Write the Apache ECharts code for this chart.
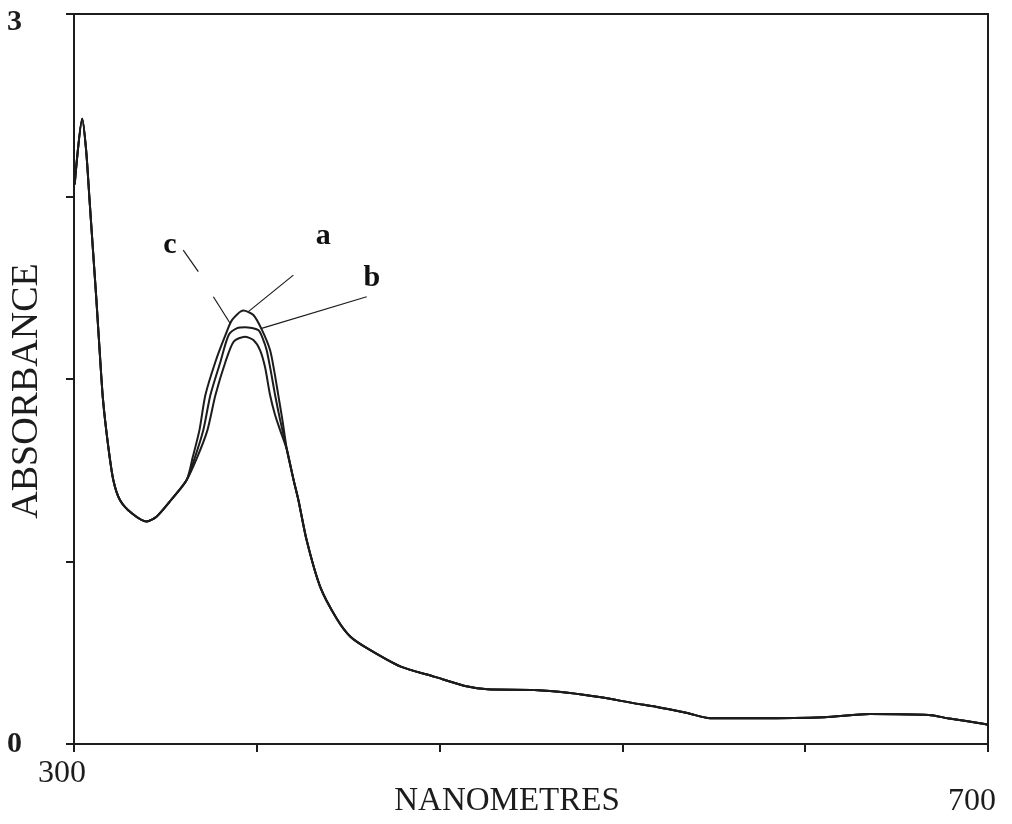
<!DOCTYPE html>
<html><head><meta charset="utf-8">
<script src="https://cdn.jsdelivr.net/npm/echarts@6/dist/echarts.min.js"></script>
<style>html,body{margin:0;padding:0;background:#fff}#c{width:1012px;height:824px}</style>
</head><body><div id="c"></div>
<script>
// Tick labels shown
const xTickLabels = {300: '300', 700: '700'};
const yTickLabels = {0: '0', 3: '3'};

// Shared left part of the spectrum (nm, absorbance)
const leftNm  = [300.3, 303.6, 305.3, 306.8, 308.3, 309.8, 311.2, 312.7, 315.0, 317.2, 320.1, 325.3, 331.8, 336.2, 342.5, 349.3];
const leftAbs = [2.30, 2.57, 2.441, 2.236, 2.03, 1.825, 1.619, 1.414, 1.222, 1.085, 1.003, 0.948, 0.914, 0.935, 1.003, 1.085];

// Peak region of each curve
const aNm  = [352.0, 354.9, 357.5, 361.9, 366.3, 369.2, 374.1, 378.5, 382.3, 385.8, 387.7, 389.4, 391.2];
const aAbs = [1.18, 1.29, 1.434, 1.571, 1.681, 1.743, 1.781, 1.763, 1.701, 1.619, 1.529, 1.434, 1.332];
const bNm  = [353.0, 356.6, 359.7, 364.1, 367.7, 371.4, 374.8, 380.7, 382.7, 384.3, 386.2, 388.0, 390.2];
const bAbs = [1.18, 1.29, 1.434, 1.571, 1.681, 1.709, 1.713, 1.701, 1.664, 1.619, 1.529, 1.434, 1.332];
const cNm  = [354.0, 358.4, 361.9, 366.3, 369.9, 374.8, 378.5, 381.4, 383.6, 385.8, 388.0, 390.2];
const cAbs = [1.18, 1.29, 1.434, 1.571, 1.654, 1.674, 1.660, 1.619, 1.549, 1.434, 1.352, 1.290];

// Shared right part
const rightNm  = [393.2, 396.1, 398.2, 401.8, 407.7, 415.0, 421.0, 428.4, 443.0, 457.6, 472.3, 481.0, 501.5, 516.1, 530.7, 545.3, 554.6, 568.4, 578.5, 598.5, 628.4, 648.3, 674.1, 682.3, 698.5, 700.0];
const rightAbs = [1.208, 1.085, 1.003, 0.838, 0.647, 0.515, 0.441, 0.393, 0.318, 0.277, 0.236, 0.225, 0.222, 0.211, 0.192, 0.167, 0.153, 0.127, 0.106, 0.106, 0.110, 0.123, 0.119, 0.106, 0.082, 0.078];

// Curve labels and leader lines (data coordinates)
const curveNames = ['a', 'b', 'c'];
const labelNm  = [409.1, 430.3, 342.0];
const labelAbs = [2.085, 1.914, 2.051];
const leaderSegments = [
  [[396.0, 1.927], [376.3, 1.777]],
  [[428.1, 1.838], [382.1, 1.708]],
  [[347.8, 2.030], [354.4, 1.941]],
  [[361.0, 1.838], [368.3, 1.729]]
];

function pairs(xs, ys) { return xs.map((x, i) => [x, ys[i]]); }
const curves = [
  pairs(leftNm, leftAbs).concat(pairs(aNm, aAbs), pairs(rightNm, rightAbs)),
  pairs(leftNm, leftAbs).concat(pairs(bNm, bAbs), pairs(rightNm, rightAbs)),
  pairs(leftNm, leftAbs).concat(pairs(cNm, cAbs), pairs(rightNm, rightAbs))
];

const ink = '#1c1c1c';
const serif = '"Liberation Serif", "DejaVu Serif", serif';

const series = [];
curves.forEach((d, i) => {
  series.push({
    type: 'line', name: curveNames[i], data: d, showSymbol: false, smooth: 0.25,
    lineStyle: {color: ink, width: 2}, silent: true, z: 3
  });
});
leaderSegments.forEach(seg => {
  series.push({
    type: 'line', data: seg, showSymbol: false,
    lineStyle: {color: ink, width: 1.2}, silent: true, z: 2
  });
});
series.push({
  type: 'scatter', symbolSize: 1,
  itemStyle: {opacity: 0},
  data: curveNames.map((n, i) => ({name: n, value: [labelNm[i], labelAbs[i]]})),
  label: {show: true, position: 'inside', formatter: p => p.name,
          fontFamily: serif, fontSize: 30, fontWeight: 'bold', color: '#111', opacity: 1},
  silent: true
});

const chart = echarts.init(document.getElementById('c'), null, {renderer: 'canvas'});
chart.setOption({
  backgroundColor: '#ffffff',
  animation: false,
  grid: {left: 74, right: 24, top: 14, bottom: 80, containLabel: false, outerBoundsMode: 'none',
         show: true, borderColor: ink, borderWidth: 2, backgroundColor: 'transparent'},
  xAxis: {
    type: 'value', min: 300, max: 700, interval: 80,
    name: 'NANOMETRES', nameLocation: 'middle', nameGap: 41, nameMoveOverlap: false,
    nameTextStyle: {fontFamily: serif, fontSize: 33, color: ink, padding: [0, 48, 0, 0]},
    axisLine: {show: true, lineStyle: {color: ink, width: 2}},
    axisTick: {show: true, inside: false, length: 8, lineStyle: {color: ink, width: 2}},
    splitLine: {show: false},
    axisLabel: {
      showMinLabel: true, showMaxLabel: true, margin: 14,
      formatter: v => v === 300 ? '{l|' + xTickLabels[300] + '}' : (v === 700 ? '{r|' + xTickLabels[700] + '}' : ''),
      fontFamily: serif, fontSize: 32, color: ink,
      rich: {
        l: {fontFamily: serif, fontSize: 32, color: ink, padding: [0, 24, 0, 0]},
        r: {fontFamily: serif, fontSize: 32, color: ink, padding: [28, 32, 0, 0]}
      }
    }
  },
  yAxis: {
    type: 'value', min: 0, max: 3, interval: 0.75,
    name: 'ABSORBANCE', nameLocation: 'middle', nameGap: 28, nameRotate: 90, nameMoveOverlap: false,
    nameTextStyle: {fontFamily: serif, fontSize: 38, color: ink, padding: [0, 24, 0, 0]},
    axisLine: {show: true, lineStyle: {color: ink, width: 2}},
    axisTick: {show: true, inside: false, length: 8, lineStyle: {color: ink, width: 2}},
    splitLine: {show: false},
    axisLabel: {
      showMinLabel: true, showMaxLabel: true, margin: 52,
      formatter: v => v === 3 ? '{t|' + yTickLabels[3] + '}' : (v === 0 ? '{z|' + yTickLabels[0] + '}' : ''),
      fontFamily: serif, fontSize: 30, fontWeight: 'bold', color: ink,
      rich: {
        t: {fontFamily: serif, fontSize: 30, fontWeight: 'bold', color: ink, padding: [16, 0, 0, 0]},
        z: {fontFamily: serif, fontSize: 30, fontWeight: 'bold', color: ink}
      }
    }
  },
  series: series
});
</script>
</body></html>
